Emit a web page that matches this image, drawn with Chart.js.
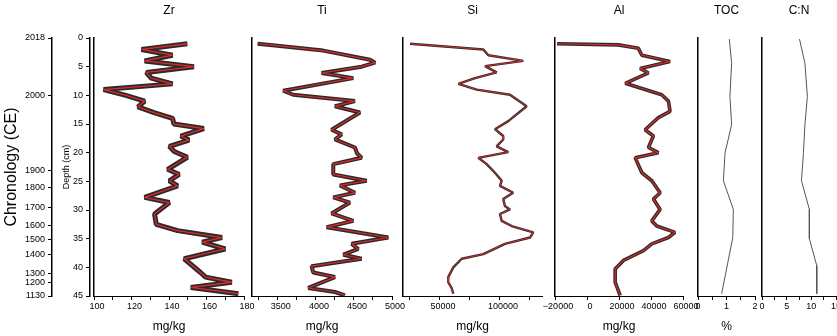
<!DOCTYPE html>
<html>
<head>
<meta charset="utf-8">
<script src="https://cdn.jsdelivr.net/npm/chart.js@4.4.0/dist/chart.umd.min.js"></script>
<style>
html, body { margin:0; padding:0; background:#fff; width:837px; height:336px; overflow:hidden; position:relative; }
canvas { position:absolute; top:0; }
</style>
</head>
<body>
<canvas id="left"></canvas>
<canvas id="zr"></canvas>
<canvas id="ti"></canvas>
<canvas id="si"></canvas>
<canvas id="al"></canvas>
<canvas id="toc"></canvas>
<canvas id="cn"></canvas>
<script>
// chronology axis (years at depth positions)
var chronYears  = [2018, 2000, 1900, 1800, 1700, 1600, 1500, 1400, 1300, 1200, 1130];
var chronDepths = [0, 10.1, 23.1, 26.1, 29.5, 32.7, 35.2, 37.8, 41.1, 42.6, 45];
var depthTicks  = [0, 5, 10, 15, 20, 25, 30, 35, 40, 45];

// Zr (mg/kg)
var zrDepth = [1, 2, 3, 4, 5, 6, 7, 8, 9, 10, 11, 12, 13, 14, 15, 15.8, 17.1, 17.8, 18.9, 19.8, 20.8, 22.9, 23.8, 24.9, 25.8, 27.8, 28.7, 30.7, 32.5, 33.6, 34.8, 35.6, 36.8, 38.5, 40.9, 41.7, 42.6, 43.5, 44.6];
var zrVals  = [149.8, 125.3, 141.9, 127, 153.3, 127.9, 130.5, 141.9, 105.1, 117, 127, 123.5, 132, 141.9, 142.6, 158.6, 146.3, 150.7, 140.2, 142.8, 149.8, 139.3, 145.4, 140.2, 144.6, 127, 140.2, 132.3, 133.2, 144.6, 168.3, 157.7, 170, 148.1, 156.8, 159.5, 173.5, 151.6, 177];

// Ti (mg/kg)
var tiDepth = [1, 1.3, 2.2, 3.8, 4.3, 5, 6.1, 7, 9.2, 9.9, 11, 11.9, 13, 16, 16.8, 17.7, 19.1, 20.1, 20.9, 22, 23.8, 24.9, 25.7, 27, 27.8, 28.7, 30.6, 31.9, 33, 34.8, 35.9, 36.8, 37.8, 38.5, 39.8, 40.9, 41.7, 43.6, 44.3, 44.9];
var tiVals  = [3233, 3460, 4096, 4711, 4777, 4601, 4075, 4491, 3570, 3701, 4513, 4250, 4579, 4206, 4338, 4250, 4513, 4540, 4601, 4228, 4228, 4667, 4316, 4513, 4228, 4447, 4206, 4491, 4141, 4952, 4470, 4557, 4360, 4601, 3943, 3965, 4250, 3899, 4250, 4382];

// Si (mg/kg)
var siDepth = [1, 2, 3, 4, 4.9, 6, 7, 8, 9, 9.9, 11.9, 14.5, 15.9, 17.1, 17.7, 18.9, 19.9, 20.9, 22, 23.5, 24.9, 25.8, 27, 28.1, 29.3, 29.9, 30.7, 31.9, 32.8, 33.9, 34.8, 35.9, 37.7, 38.5, 40, 41.7, 42.6, 43.6, 44.6];
var siVals  = [25000, 86100, 90300, 119400, 87500, 97200, 79200, 65300, 80600, 108300, 122200, 106900, 95800, 102700, 102700, 97200, 106900, 81900, 88900, 95800, 101400, 100000, 111000, 102700, 104100, 108300, 100000, 101400, 109700, 127700, 125000, 104100, 86100, 68100, 61100, 56900, 56900, 59700, 61100];

// Al (mg/kg)
var alDepth = [1, 1.2, 1.8, 3, 4.1, 5.3, 6.1, 7.9, 9.9, 11, 12.8, 13.9, 16, 17.1, 19.1, 20, 20.9, 23.5, 24.9, 27, 28.1, 29.9, 31.9, 32.8, 33.9, 34.8, 35.9, 37.1, 38.8, 40.3, 42.6, 44.9];
var alVals  = [-18700, 19600, 32100, 34300, 51900, 33200, 38400, 23900, 46700, 50900, 51900, 44600, 36300, 41500, 38400, 44600, 30100, 34300, 40500, 45700, 41500, 45700, 40500, 43600, 55000, 50900, 40500, 35300, 22800, 17600, 17600, 20700];

// TOC (%)
var tocDepth = [0.2, 4.4, 10.2, 15.1, 20, 24.9, 29.9, 34.8, 44.6];
var tocVals  = [1.10, 1.18, 1.12, 1.18, 0.95, 0.89, 1.24, 1.22, 0.83];

// C:N
var cnDepth = [0.2, 4.4, 10.2, 15.1, 20, 24.9, 29.9, 35, 39.7, 44.6];
var cnVals  = [7.6, 8.7, 9.2, 8.7, 8.4, 8.0, 9.6, 9.6, 11.1, 11.1];

// x axis ticks / labels
var zrTicks = [100, 110, 120, 130, 140, 150, 160, 170, 180], zrLabels = [100, 120, 140, 160, 180];
var tiTicks = [3250, 3500, 3750, 4000, 4250, 4500, 4750, 5000], tiLabels = [3500, 4000, 4500, 5000];
var siTicks = [25000, 50000, 75000, 100000, 125000], siLabels = [50000, 100000];
var alTicks = [-20000, 0, 20000, 40000, 60000], alLabels = [-20000, 0, 20000, 40000, 60000];
var tocTicks = [0, 0.5, 1, 1.5, 2], tocLabels = [0, 1, 2];
var cnTicks = [0, 2.5, 5, 7.5, 10, 12.5, 15], cnLabels = [0, 5, 10, 15];

var FONT = '"Liberation Sans", Arial, Helvetica, sans-serif';
Chart.defaults.font.family = FONT;
Chart.defaults.color = '#000';

var H = 336, TOP = 38, BOTTOM = 296;

function fmt(v) {
  return v < 0 ? '\u2212' + String(-v) : String(v);
}

function makePanel(id, x0, x1, opt) {
  var padL = 26, padR = 26;
  var cv = document.getElementById(id);
  cv.width = (x1 - x0) + padL + padR;
  cv.height = H;
  cv.style.left = (x0 - padL) + 'px';

  var pts = opt.depth.map(function(d, i) { return {x: opt.vals[i], y: d}; });
  var datasets = [{
    data: pts, borderColor: opt.lineColor, borderWidth: opt.lineWidth,
    borderJoinStyle: 'bevel'
  }];
  if (opt.band) {
    datasets.push({data: pts, borderColor: '#2a2a2a', borderWidth: opt.band, borderJoinStyle: 'bevel'});
  }

  new Chart(cv, {
    type: 'line',
    data: {datasets: datasets},
    options: {
      responsive: false,
      animation: false,
      indexAxis: 'y',
      layout: {padding: {left: padL, right: padR, top: 0, bottom: 0}},
      plugins: {
        legend: {display: false},
        tooltip: {enabled: false},
        title: {display: true, text: opt.title, font: {size: 12, weight: 'normal'}, color: '#000',
                padding: {top: 3, bottom: TOP - 3 - 14.4}}
      },
      elements: {point: {radius: 0}, line: {tension: 0, fill: false}},
      scales: {
        x: {
          type: 'linear', position: 'bottom', min: opt.min, max: opt.max,
          afterBuildTicks: function(s) { s.ticks = opt.ticks.map(function(v) { return {value: v}; }); },
          afterFit: function(s) { s.height = H - BOTTOM; },
          ticks: {font: {size: 9}, padding: 1, maxRotation: 0, autoSkip: false, labelOffset: opt.shift,
                  callback: function(v) { return opt.labels.indexOf(v) >= 0 ? fmt(v) : ''; }},
          grid: {drawOnChartArea: false, drawTicks: true, tickLength: 4, color: '#000'},
          border: {color: '#000', width: 1},
          title: {display: true, text: opt.unit, font: {size: 12}, padding: {top: 0, bottom: 2}}
        },
        y: {
          type: 'linear', min: 0, max: 45, reverse: true,
          afterFit: function(s) { s.width = 0; },
          ticks: {display: false},
          grid: {display: false},
          border: {color: '#000', width: 1.5}
        }
      }
    }
  });
}

// left axes: chronology + depth
var lc = document.getElementById('left');
lc.width = 93; lc.height = H; lc.style.left = '0px';
new Chart(lc, {
  type: 'line',
  data: {datasets: []},
  options: {
    responsive: false,
    animation: false,
    layout: {padding: {top: TOP, bottom: H - BOTTOM, left: 0, right: 0}},
    plugins: {legend: {display: false}, tooltip: {enabled: false}},
    scales: {
      x: {type: 'linear', display: false, min: 0, max: 1},
      chron: {
        type: 'linear', position: 'left', weight: 2, min: 0, max: 45, reverse: true,
        afterBuildTicks: function(s) { s.ticks = chronDepths.map(function(v) { return {value: v}; }); },
        afterFit: function(s) { s.width = 52; },
        ticks: {font: {size: 9}, padding: 3, autoSkip: false,
                callback: function(v, i) { return String(chronYears[i]); }},
        grid: {drawOnChartArea: false, tickLength: 4, color: '#000'},
        border: {color: '#000', width: 1.5},
        title: {display: true, text: 'Chronology (CE)', font: {size: 16}, padding: {top: 2, bottom: 0}}
      },
      depth: {
        type: 'linear', position: 'left', weight: 1, min: 0, max: 45, reverse: true,
        afterBuildTicks: function(s) { s.ticks = depthTicks.map(function(v) { return {value: v}; }); },
        afterFit: function(s) { s.width = 38; },
        ticks: {font: {size: 9}, padding: 3, autoSkip: false},
        grid: {drawOnChartArea: false, tickLength: 4, color: '#000'},
        border: {color: '#000', width: 1.5},
        title: {display: true, text: 'Depth (cm)', font: {size: 9}, padding: {top: 9, bottom: 0}}
      }
    }
  }
});

var red = '#e02a2a';
makePanel('zr', 94, 244, {title: 'Zr', unit: 'mg/kg', depth: zrDepth, vals: zrVals, min: 100, max: 180,
  ticks: zrTicks, labels: zrLabels, lineColor: red, lineWidth: 1.3, band: 5, shift: 3});
makePanel('ti', 252, 392, {title: 'Ti', unit: 'mg/kg', depth: tiDepth, vals: tiVals, min: 3160, max: 5000,
  ticks: tiTicks, labels: tiLabels, lineColor: red, lineWidth: 1.2, band: 4, shift: 3});
makePanel('si', 403, 542, {title: 'Si', unit: 'mg/kg', depth: siDepth, vals: siVals, min: 19200, max: 135000,
  ticks: siTicks, labels: siLabels, lineColor: red, lineWidth: 0.9, band: 2.4, shift: 3});
makePanel('al', 555, 683, {title: 'Al', unit: 'mg/kg', depth: alDepth, vals: alVals, min: -20000, max: 60000,
  ticks: alTicks, labels: alLabels, lineColor: red, lineWidth: 1.2, band: 3.6, shift: 3});
makePanel('toc', 698, 755, {title: 'TOC', unit: '%', depth: tocDepth, vals: tocVals, min: 0, max: 2,
  ticks: tocTicks, labels: tocLabels, lineColor: '#555', lineWidth: 1, band: 0, shift: 0});
makePanel('cn', 762, 836, {title: 'C:N', unit: '', depth: cnDepth, vals: cnVals, min: 0, max: 15,
  ticks: cnTicks, labels: cnLabels, lineColor: '#555', lineWidth: 1, band: 0, shift: 0});
</script>
</body>
</html>
